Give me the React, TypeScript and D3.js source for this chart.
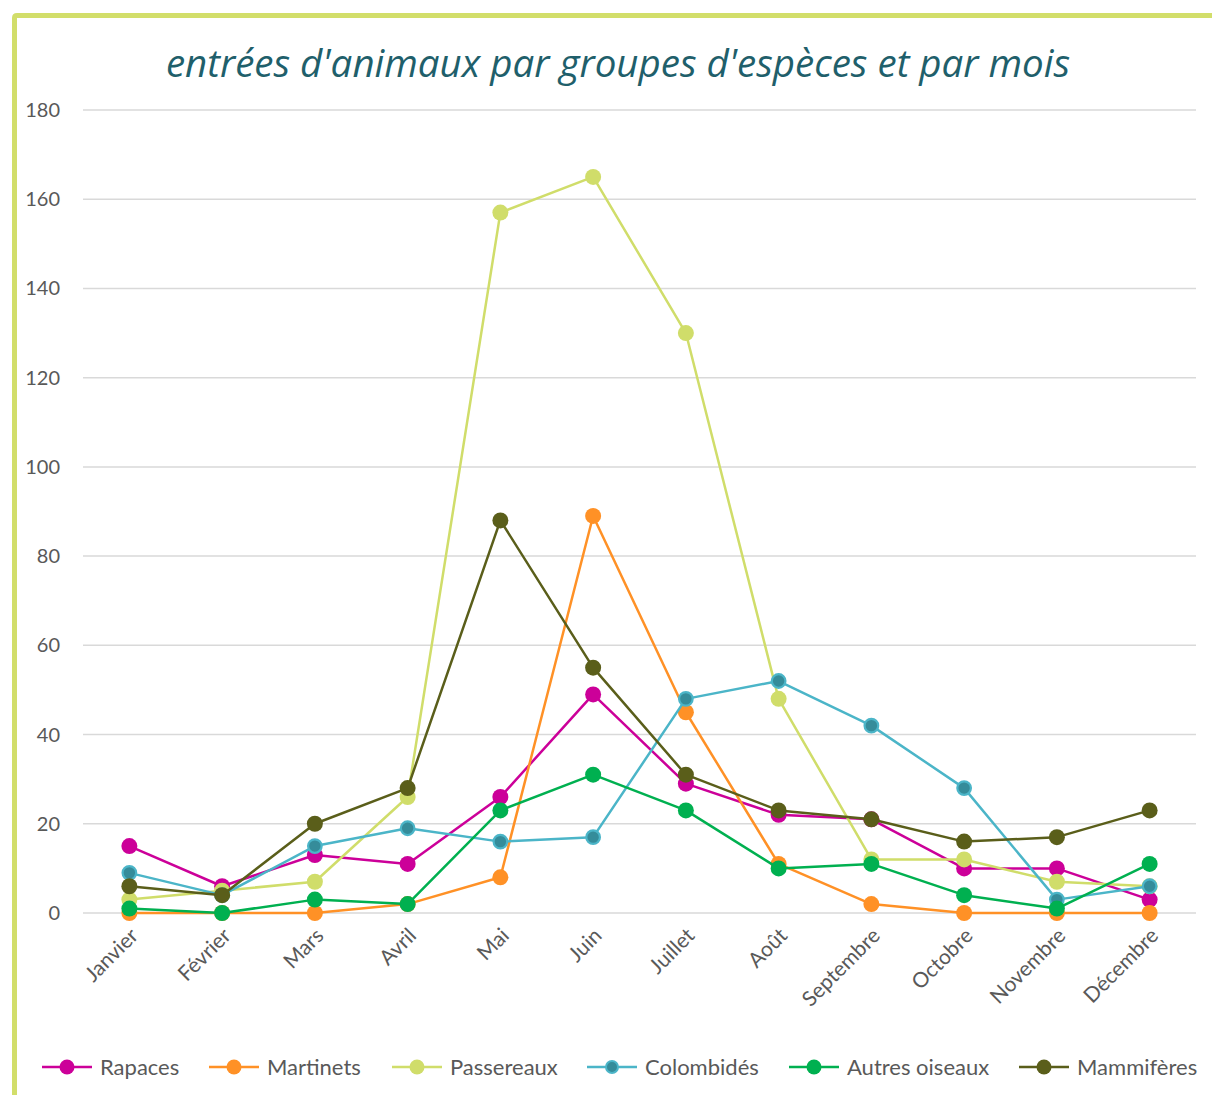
import React, { useEffect, useRef } from 'react';
import * as d3 from 'd3';

const months = ['Janvier', 'Février', 'Mars', 'Avril', 'Mai', 'Juin', 'Juillet', 'Août', 'Septembre', 'Octobre', 'Novembre', 'Décembre'];
const yTicks = [0, 20, 40, 60, 80, 100, 120, 140, 160, 180];

const rapaces = [15, 6, 13, 11, 26, 49, 29, 22, 21, 10, 10, 3];
const martinets = [0, 0, 0, 2, 8, 89, 45, 11, 2, 0, 0, 0];
const passereaux = [3, 5, 7, 26, 157, 165, 130, 48, 12, 12, 7, 6];
const colombides = [9, 4, 15, 19, 16, 17, 48, 52, 42, 28, 3, 6];
const autresOiseaux = [1, 0, 3, 2, 23, 31, 23, 10, 11, 4, 1, 11];
const mammiferes = [6, 4, 20, 28, 88, 55, 31, 23, 21, 16, 17, 23];

const series = [
  { name: 'Rapaces', values: rapaces, color: '#cc0099', fill: '#cc0099' },
  { name: 'Martinets', values: martinets, color: '#ff9126', fill: '#ff9126' },
  { name: 'Passereaux', values: passereaux, color: '#d0dd6a', fill: '#d0dd6a' },
  { name: 'Colombidés', values: colombides, color: '#4bb5c8', fill: '#358c9a' },
  { name: 'Autres oiseaux', values: autresOiseaux, color: '#00b050', fill: '#00b050' },
  { name: 'Mammifères', values: mammiferes, color: '#5a5e1a', fill: '#5a5e1a' },
];

const legendX = [42, 209, 392, 587, 789, 1019];

const App = () => {
  const svgRef = useRef<SVGSVGElement>(null);

  useEffect(() => {
    document.body.style.margin = '0';
    const W = 1212;
    const H = 1095;
    const font = 'Lato, "Open Sans", sans-serif';

    const svg = d3.select(svgRef.current);
    svg.selectAll('*').remove();
    svg.attr('width', W).attr('height', H);

    svg.append('rect').attr('width', W).attr('height', H).attr('fill', '#fff');

    // frame
    svg.append('path')
      .attr('d', `M14.5,${H} L14.5,18 Q14.5,15.5 17,15.5 L${W},15.5`)
      .attr('fill', 'none')
      .attr('stroke', '#d2de6a')
      .attr('stroke-width', 5);

    svg.append('text')
      .attr('x', 618)
      .attr('y', 77)
      .attr('text-anchor', 'middle')
      .attr('font-family', '"Open Sans", sans-serif')
      .attr('font-style', 'italic')
      .attr('font-size', 38.5)
      .attr('fill', '#1f5f6b')
      .text("entrées d'animaux par groupes d'espèces et par mois");

    const x = d3.scaleBand<string>().domain(months).range([83, 1196]);
    const y = d3.scaleLinear().domain([0, 180]).range([913, 110]);
    const cx = (m: string) => (x(m) as number) + x.bandwidth() / 2;

    const grid = svg.append('g');
    grid.selectAll('line')
      .data(yTicks)
      .enter()
      .append('line')
      .attr('x1', 83)
      .attr('x2', 1196)
      .attr('y1', (d) => y(d))
      .attr('y2', (d) => y(d))
      .attr('stroke', '#d9d9d9')
      .attr('stroke-width', 1.5);

    grid.selectAll('text')
      .data(yTicks)
      .enter()
      .append('text')
      .attr('x', 60)
      .attr('y', (d) => y(d) + 7)
      .attr('text-anchor', 'end')
      .attr('font-family', font)
      .attr('font-size', 20)
      .attr('fill', '#595959')
      .text((d) => d);

    svg.append('g')
      .selectAll('text')
      .data(months)
      .enter()
      .append('text')
      .attr('transform', (d) => `translate(${cx(d) + 10},${937}) rotate(-45)`)
      .attr('text-anchor', 'end')
      .attr('font-family', font)
      .attr('font-size', 21)
      .attr('fill', '#595959')
      .text((d) => d);

    const line = d3.line<number>()
      .x((_, i) => cx(months[i]))
      .y((d) => y(d));

    series.forEach((s) => {
      const g = svg.append('g');
      g.append('path')
        .datum(s.values)
        .attr('d', line)
        .attr('fill', 'none')
        .attr('stroke', s.color)
        .attr('stroke-width', 2.5)
        .attr('stroke-linejoin', 'round');
      g.selectAll('circle')
        .data(s.values)
        .enter()
        .append('circle')
        .attr('cx', (_, i) => cx(months[i]))
        .attr('cy', (d) => y(d))
        .attr('r', s.fill !== s.color ? 6.8 : 8)
        .attr('fill', s.fill)
        .attr('stroke', s.color)
        .attr('stroke-width', s.fill !== s.color ? 2.2 : 0);
    });

    const legend = svg.append('g');
    series.forEach((s, i) => {
      const lx = legendX[i];
      const ly = 1067;
      const item = legend.append('g').attr('transform', `translate(${lx},${ly})`);
      item.append('line')
        .attr('x1', 0)
        .attr('x2', 50)
        .attr('stroke', s.color)
        .attr('stroke-width', 2.5);
      item.append('circle')
        .attr('cx', 25)
        .attr('r', s.fill !== s.color ? 6 : 7.5)
        .attr('fill', s.fill)
        .attr('stroke', s.color)
        .attr('stroke-width', s.fill !== s.color ? 2 : 0);
      item.append('text')
        .attr('x', 58)
        .attr('y', 7.5)
        .attr('font-family', font)
        .attr('font-size', 22)
        .attr('fill', '#595959')
        .text(s.name);
    });
  }, []);

  return <svg ref={svgRef}></svg>;
};

export default App;
